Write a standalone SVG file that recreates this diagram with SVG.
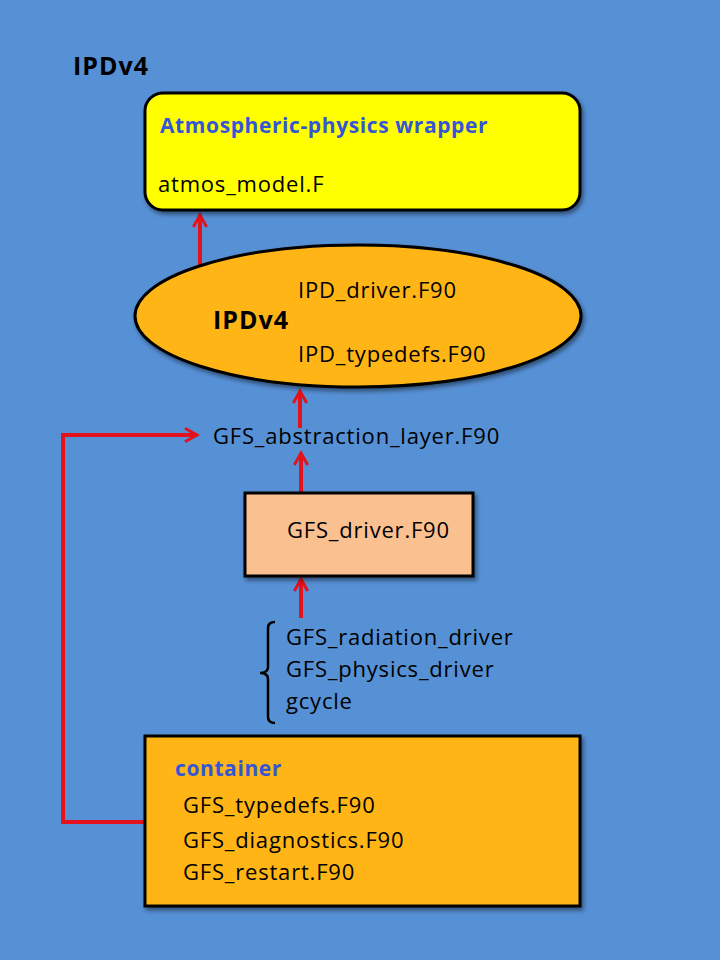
<svg xmlns="http://www.w3.org/2000/svg" width="720" height="960" viewBox="0 0 720 960">
<defs>
<style>
text{font-family:"Open Sans","Liberation Sans",Arial,sans-serif;font-size:22px;letter-spacing:0.8px;fill:#000}
.b{font-weight:bold;font-size:25px;letter-spacing:1px}
.blue{fill:#3355d8;font-weight:bold;font-size:21px;letter-spacing:0.6px}
.node{stroke:#000;stroke-width:3}
.con{stroke:#e3121c;stroke-width:4;fill:none}
</style>
<marker id="ah" viewBox="0 0 12 12" refX="10" refY="6" markerWidth="4" markerHeight="4" orient="auto" markerUnits="strokeWidth">
<path d="M1,1 L10,6 L1,11" fill="none" stroke="#e3121c" stroke-width="2.2"/>
</marker>
<filter id="sh" x="-5%" y="-5%" width="115%" height="120%">
<feDropShadow dx="2" dy="3" stdDeviation="2" flood-color="#000" flood-opacity="0.45"/>
</filter>
</defs>
<rect width="720" height="960" fill="#5690d5"/>
<text x="73" y="75" class="b">IPDv4</text>

<g id="connectors">
<line class="con" x1="200" y1="265" x2="200" y2="215" marker-end="url(#ah)"/>
<line class="con" x1="300" y1="428" x2="300" y2="391" marker-end="url(#ah)"/>
<line class="con" x1="301" y1="492" x2="301" y2="453" marker-end="url(#ah)"/>
<line class="con" x1="301" y1="618" x2="301" y2="579" marker-end="url(#ah)"/>
<polyline class="con" points="145,822 63,822 63,435 197,435" marker-end="url(#ah)"/>
</g>

<g id="wrapper">
<rect class="node" x="145" y="93" width="435" height="117" rx="18" fill="#ffff00" filter="url(#sh)"/>
<text x="160" y="133" class="blue">Atmospheric-physics wrapper</text>
<text x="158" y="192">atmos_model.F</text>
</g>

<g id="ipd">
<ellipse class="node" cx="358" cy="316" rx="223" ry="71" fill="#ffb514" filter="url(#sh)"/>
<text x="213" y="329" class="b">IPDv4</text>
<text x="298" y="298">IPD_driver.F90</text>
<text x="298" y="362">IPD_typedefs.F90</text>
</g>

<g id="abstraction">
<text x="213" y="444">GFS_abstraction_layer.F90</text>
</g>

<g id="driver">
<rect class="node" x="245" y="493" width="228" height="83" fill="#fac090" filter="url(#sh)"/>
<text x="287" y="538">GFS_driver.F90</text>
</g>

<g id="drivers-list">
<path d="M275,622 Q268,622 268,628 L268,667 Q268,673 260,673 Q268,673 268,679 L268,717 Q268,723 275,723" fill="none" stroke="#000" stroke-width="2.5"/>
<text x="286" y="645">GFS_radiation_driver</text>
<text x="286" y="677">GFS_physics_driver</text>
<text x="286" y="709">gcycle</text>
</g>

<g id="container">
<rect class="node" x="145" y="736" width="435" height="170" fill="#ffb514" filter="url(#sh)"/>
<text x="175" y="776" class="blue">container</text>
<text x="183" y="813">GFS_typedefs.F90</text>
<text x="183" y="848">GFS_diagnostics.F90</text>
<text x="183" y="880">GFS_restart.F90</text>
</g>
</svg>
